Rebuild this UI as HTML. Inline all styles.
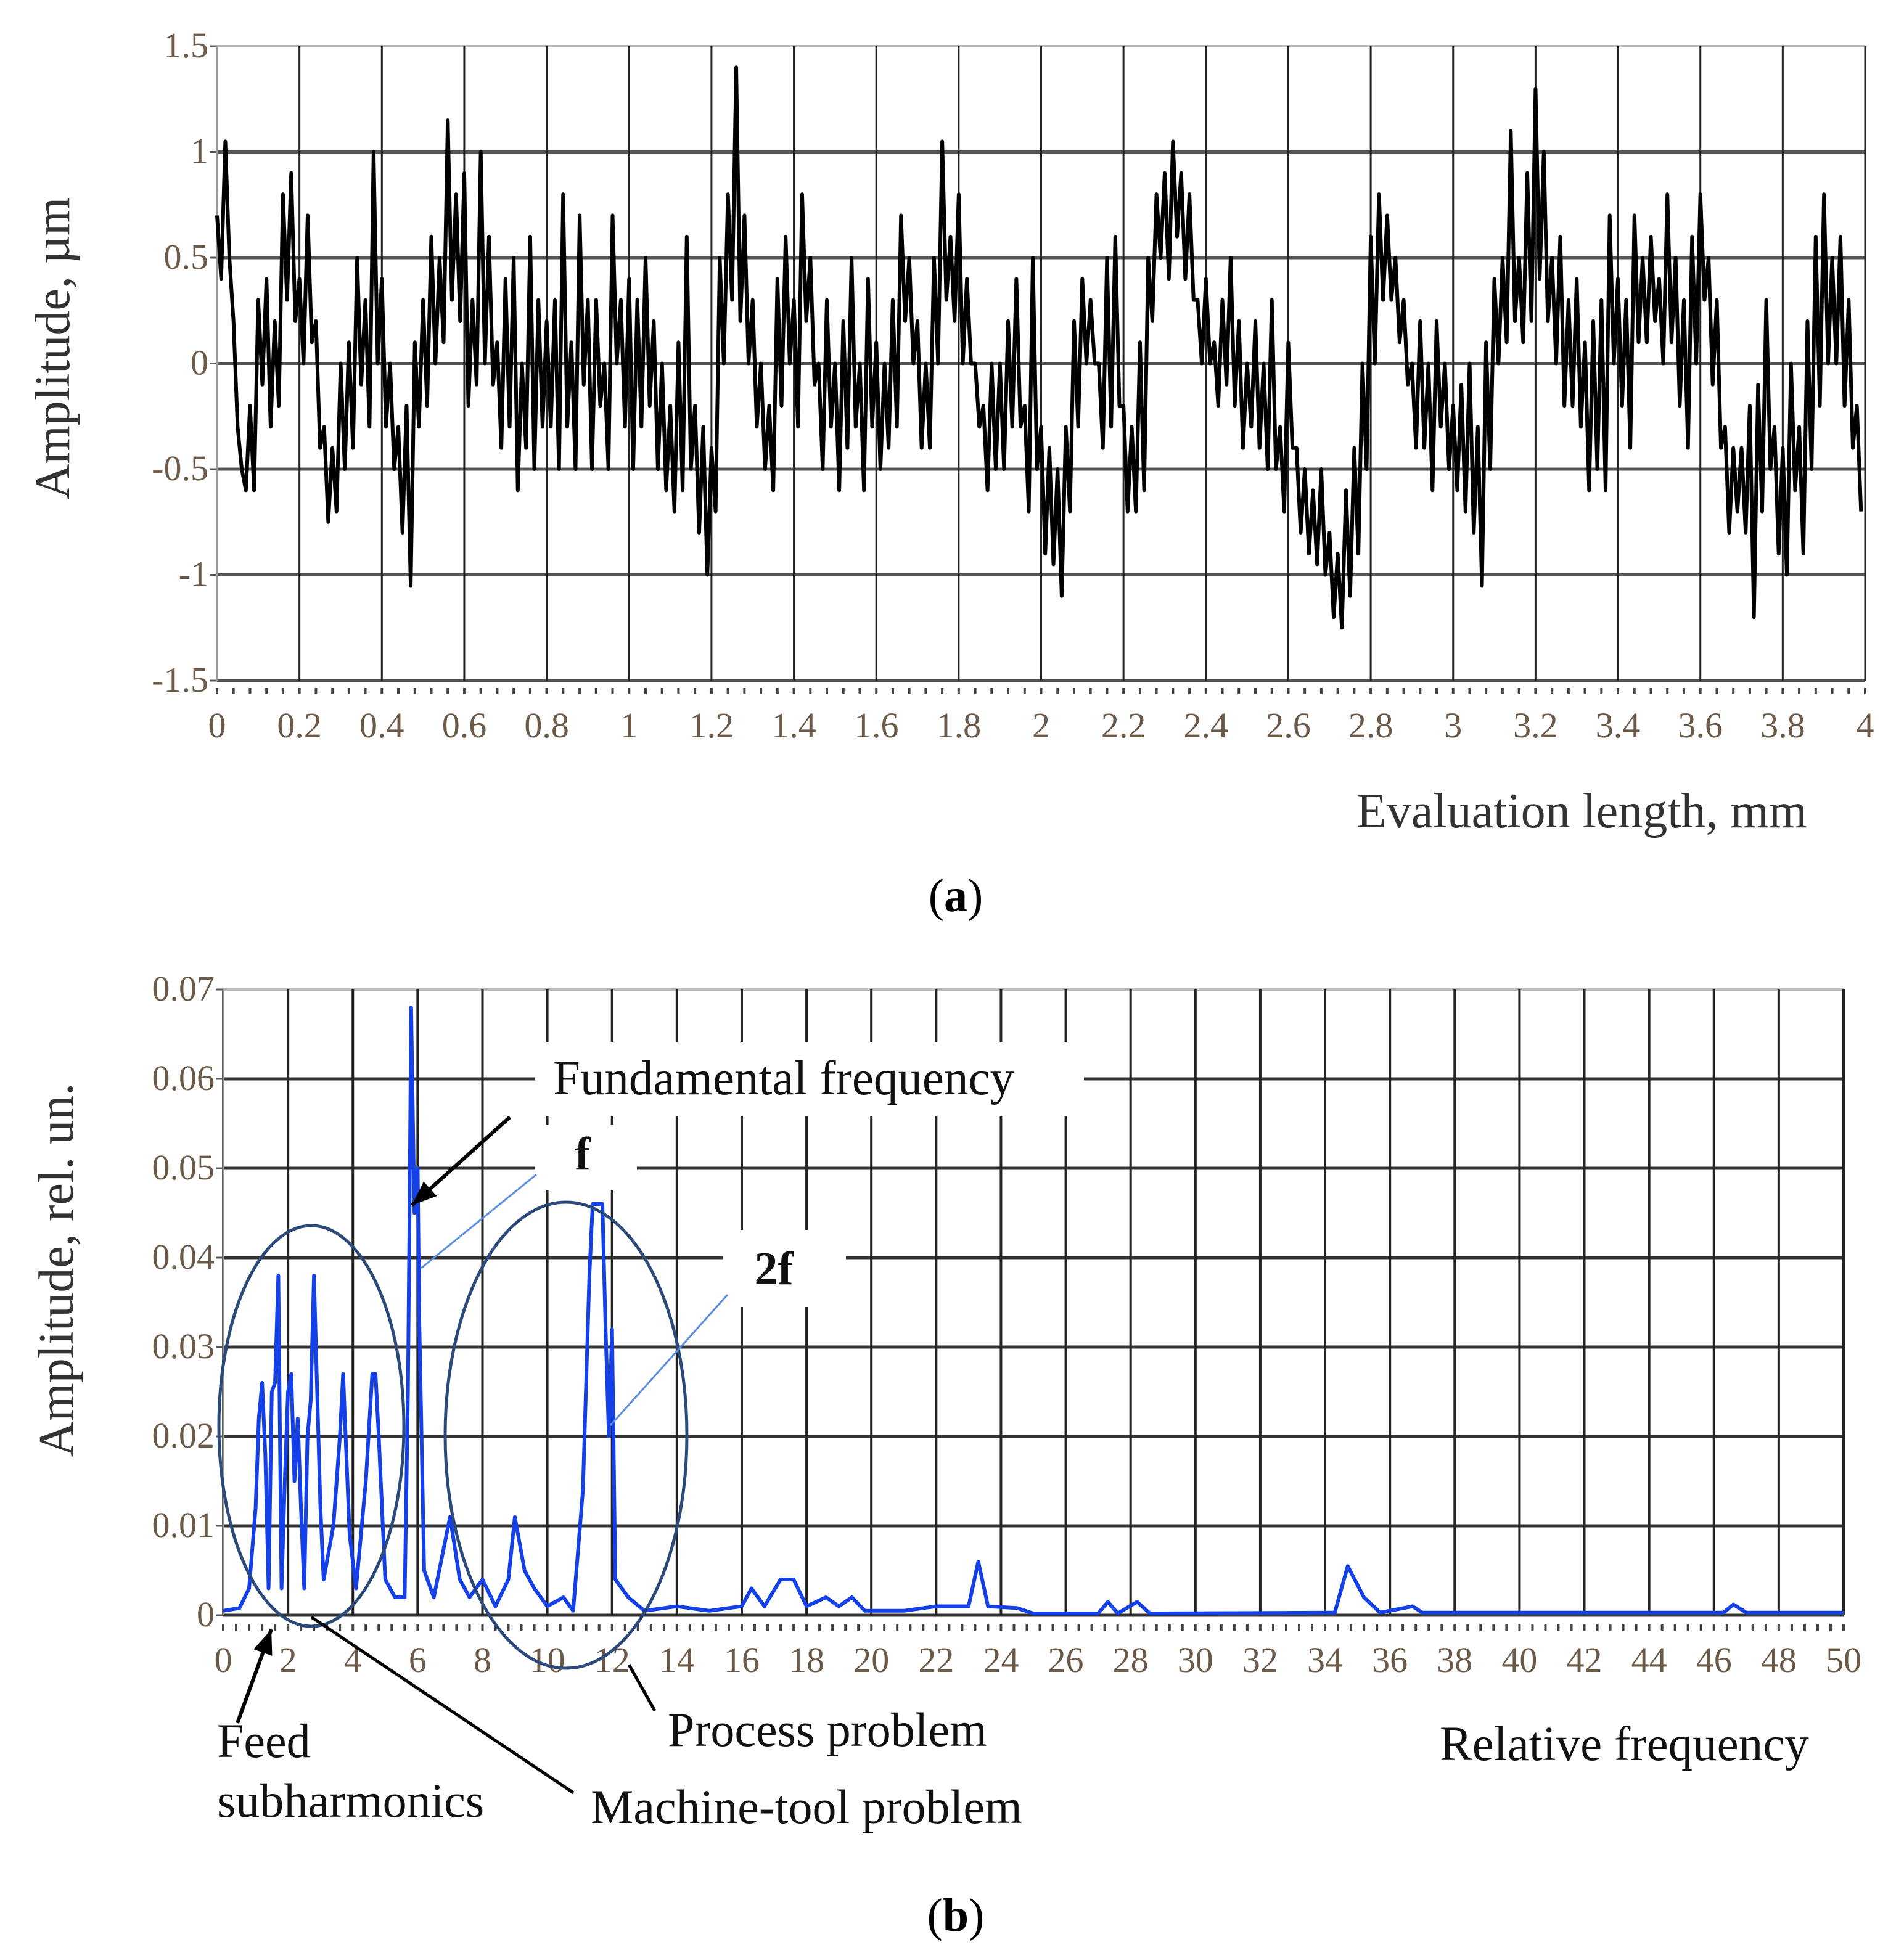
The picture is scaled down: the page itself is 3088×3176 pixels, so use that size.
<!DOCTYPE html>
<html><head><meta charset="utf-8">
<style>
html,body{margin:0;padding:0;background:#fff;}
svg{display:block;font-family:"Liberation Serif",serif;}
</style></head>
<body>
<svg id="fig" width="3088" height="3176" viewBox="0 0 3088 3176" xmlns="http://www.w3.org/2000/svg">
<rect width="3088" height="3176" fill="#fff"/>
<g id="chartA"></g>
<g id="chartB"></g>
</svg>
<script>
// ---------- Chart (a) data ----------
const profHi = [0.7,1.05,0.2,-0.5,-0.2,0.3,0.4,0.2,0.8,0.9,0.4,0.7,0.2,-0.3,-0.4,0.0,0.1,0.5,0.3,1.0,0.4,0.0,-0.3,-0.2,0.1,0.3,0.6,0.5,1.15,0.8,0.9,0.3,1.0,0.6,0.1,0.4,0.5,0.0,0.6,0.3,0.2,0.3,0.8,0.1,0.7,0.3,0.3,0.0,0.7,0.3,0.4,
0.3,0.5,0.2,
0.0,-0.2,0.1,0.6,-0.2,-0.3,-0.4,0.5,0.8,1.4,0.7,0.3,0.0,-0.2,0.4,0.6,0.3,0.8,0.5,0.0,0.3,0.0,0.2,0.5,0.0,0.4,0.1,0.0,0.3,0.7,0.5,0.2,0.0,0.5,1.05,0.6,0.8,0.4,0.0,-0.2,0.0,0.0,0.2,0.4,-0.2,0.5,-0.3,-0.4,-0.5,-0.3,0.2,0.4,0.3,0.0,0.5,0.6,-0.2,-0.3,0.1,0.5,0.8,0.9,1.05,0.9,0.8,
0.3,
0.4,0.1,0.3,0.5,0.2,0.0,0.2,0.0,0.3,-0.3,
0.1,
-0.4,-0.5,-0.6,-0.5,-0.8,-0.9,-0.6,-0.4,0.0,0.6,0.8,0.7,0.5,0.3,0.0,
0.2,0.0,
0.2,0.0,-0.2,-0.1,0.0,-0.3,0.1,0.4,0.5,1.1,0.5,0.9,1.3,
1.0,0.5,0.6,0.3,0.4,0.1,0.2,0.3,0.7,0.4,0.3,0.7,0.5,0.6,0.4,0.8,0.5,0.3,0.6,0.8,0.5,0.3,
-0.3,-0.4,-0.4,-0.2,-0.1,0.3,-0.3,-0.4,0.0,-0.3,
0.2,0.6,0.8,0.5,0.6,0.3,-0.2];
const profLo = [0.4,0.5,-0.3,-0.6,-0.6,-0.1,-0.3,-0.2,0.3,0.2,0.0,0.1,-0.4,-0.75,-0.7,-0.5,-0.4,-0.1,-0.3,0.0,-0.3,-0.5,-0.8,-1.05,-0.3,-0.2,0.0,0.1,0.3,0.2,-0.2,-0.1,0.0,-0.1,-0.4,-0.3,-0.6,-0.4,-0.5,-0.3,-0.3,-0.5,-0.3,-0.5,-0.1,-0.5,-0.2,-0.5,0.0,-0.3,-0.5,
-0.3,-0.2,-0.5,
-0.6,-0.7,-0.6,-0.5,-0.8,-1.0,-0.7,0.0,0.3,0.2,0.0,-0.3,-0.5,-0.6,-0.2,0.0,-0.3,0.2,-0.1,-0.5,-0.3,-0.6,-0.4,-0.3,-0.6,-0.3,-0.5,-0.4,-0.3,0.2,0.0,-0.4,-0.4,0.0,0.3,0.2,0.0,0.0,-0.3,-0.6,-0.5,-0.5,-0.3,-0.3,-0.7,-0.5,-0.9,-0.95,-1.1,-0.7,-0.3,0.0,0.0,-0.4,-0.3,-0.2,-0.7,-0.7,-0.6,0.2,0.5,0.4,0.6,0.4,0.3,
0.0,
0.0,-0.2,-0.1,-0.2,-0.4,-0.3,-0.4,-0.5,-0.5,-0.7,
-0.4,
-0.8,-0.9,-0.95,-1.0,-1.2,-1.25,-1.1,-0.9,-0.5,0.0,0.3,0.3,0.1,-0.1,-0.4,
-0.4,-0.6,
-0.3,-0.5,-0.6,-0.7,-0.8,-1.05,-0.5,0.0,0.1,0.2,0.1,0.2,0.4,
0.2,0.0,-0.2,-0.2,-0.3,-0.6,-0.5,-0.6,0.0,-0.2,-0.4,0.1,0.1,0.2,0.0,0.1,-0.2,-0.4,0.0,0.3,-0.1,-0.4,
-0.8,-0.7,-0.8,-1.2,-0.7,-0.5,-0.9,-1.0,-0.6,-0.9,
-0.5,-0.2,0.0,0.0,-0.2,-0.4,-0.7];
const profXTicks = ["0","0.2","0.4","0.6","0.8","1","1.2","1.4","1.6","1.8","2","2.2","2.4","2.6","2.8","3","3.2","3.4","3.6","3.8","4"];
const profYTicks = ["1.5","1","0.5","0","-0.5","-1","-1.5"];

// ---------- Chart (b) data ----------
const specFreq = [0,0.5,0.8,1.0,1.1,1.2,1.3,1.4,1.5,1.6,1.7,1.8,1.9,2.0,2.1,2.2,2.3,2.4,2.5,2.6,2.7,2.8,2.9,3.0,3.1,3.4,3.6,3.7,3.8,3.9,4.1,4.4,4.6,4.7,4.8,5.0,5.3,5.6,5.7,5.75,5.8,5.9,6.0,6.05,6.2,6.5,7.0,7.3,7.6,8.0,8.4,8.8,9.0,9.3,9.6,10.0,10.5,10.8,11.1,11.3,11.4,11.7,11.8,11.9,12.0,12.1,12.5,13.0,14.0,15.0,16.0,16.3,16.7,17.2,17.6,18.0,18.6,19.0,19.4,19.8,21.0,22.0,23.0,23.3,23.6,24.5,25.0,27.0,27.3,27.6,28.2,28.6,34.3,34.7,35.2,35.7,36.7,37.0,46.3,46.6,47.0,50.0];
const specAmp  = [0.0005,0.0008,0.003,0.012,0.022,0.026,0.018,0.003,0.025,0.026,0.038,0.003,0.015,0.025,0.027,0.015,0.022,0.012,0.003,0.02,0.024,0.038,0.025,0.012,0.004,0.01,0.02,0.027,0.018,0.009,0.003,0.015,0.027,0.027,0.02,0.004,0.002,0.002,0.025,0.045,0.068,0.045,0.05,0.033,0.005,0.002,0.011,0.004,0.002,0.004,0.001,0.004,0.011,0.005,0.003,0.001,0.002,0.0005,0.014,0.038,0.046,0.046,0.032,0.02,0.032,0.004,0.002,0.0005,0.001,0.0005,0.001,0.003,0.001,0.004,0.004,0.001,0.002,0.001,0.002,0.0005,0.0005,0.001,0.001,0.006,0.001,0.0008,0.0002,0.0002,0.0015,0.0002,0.0015,0.0002,0.0003,0.0055,0.002,0.0003,0.001,0.0003,0.0003,0.0012,0.0003,0.0003];
const specXTicks = ["0","2","4","6","8","10","12","14","16","18","20","22","24","26","28","30","32","34","36","38","40","42","44","46","48","50"];
const specYTicks = ["0.07","0.06","0.05","0.04","0.03","0.02","0.01","0"];

const NS = "http://www.w3.org/2000/svg";
function mk(tag, attrs, parent){
  const e = document.createElementNS(NS, tag);
  for (const k in attrs) e.setAttribute(k, attrs[k]);
  parent.appendChild(e);
  return e;
}

// ===== Chart A =====
const A = document.getElementById('chartA');
const ax0 = 352, ax1 = 3025, ayTop = 75, ayBot = 1104;
const axX = v => ax0 + (v/4)*(ax1-ax0);
const axY = v => ayBot - ((v+1.5)/3)*(ayBot-ayTop);

for (let i=0;i<profYTicks.length;i++){
  const v = parseFloat(profYTicks[i]);
  const y = axY(v);
  const gl = mk('line',{x1:ax0,x2:ax1,y1:y,y2:y,stroke:(v===1.5?'#bbb':'#555'),'stroke-width':(v===1.5?4:5)},A);
  
  
  mk('line',{x1:ax0-12,x2:ax0,y1:y,y2:y,stroke:'#555','stroke-width':3},A);
  const t = mk('text',{x:ax0-14,y:y+18,'text-anchor':'end','font-size':58,fill:'#6b5a48'},A);
  t.textContent = profYTicks[i];
  
  
}
for (let i=0;i<profXTicks.length;i++){
  const x = axX(parseFloat(profXTicks[i]));
  const gl = mk('line',{x1:x,x2:x,y1:ayTop,y2:ayBot,stroke:'#222','stroke-width':3},A);
  
  
  const t = mk('text',{x:x,y:ayBot+92,'text-anchor':'middle','font-size':58,fill:'#6b5a48'},A);
  t.textContent = profXTicks[i];
  
  
}
for (let k=0;k<=100;k++){
  const x = axX(k*0.04);
  mk('line',{x1:x,x2:x,y1:ayBot+12,y2:ayBot+22,stroke:'#444','stroke-width':4},A);
}
mk('line',{x1:ax0,x2:ax0,y1:ayTop,y2:ayBot,stroke:'#999','stroke-width':3},A);
{
  const n = profHi.length, step = 4/n;
  let d = '';
  for (let i=0;i<n;i++){
    d += (i?'L':'M') + axX(i*step).toFixed(1) + ' ' + axY(profHi[i]).toFixed(1);
    d += 'L' + axX(i*step+step/2).toFixed(1) + ' ' + axY(profLo[i]).toFixed(1);
  }
  const p = mk('path',{d:d,fill:'none',stroke:'#000','stroke-width':6,'stroke-linejoin':'round'},A);
  
  
}
{
  const t = mk('text',{x:0,y:0,transform:'translate(112,565) rotate(-90)','text-anchor':'middle','font-size':80,fill:'#333'},A);
  t.textContent = 'Amplitude, µm';
  
  
  const t2 = mk('text',{x:2200,y:1342,'font-size':80,fill:'#333'},A);
  t2.textContent = 'Evaluation length, mm';
  
  
  const t3 = mk('text',{x:1550,y:1478,'text-anchor':'middle','font-size':76,fill:'#000'},A);
  t3.innerHTML = '(<tspan font-weight="bold">a</tspan>)';
  
  
}

// ===== Chart B =====
const B = document.getElementById('chartB');
const bx0 = 362, bx1 = 2990, byTop = 1605, byBot = 2620;
const bX = v => bx0 + (v/50)*(bx1-bx0);
const bY = v => byBot - (v/0.07)*(byBot-byTop);

for (let i=0;i<specYTicks.length;i++){
  const v = parseFloat(specYTicks[i]);
  const y = bY(v);
  const gl = mk('line',{x1:bx0,x2:bx1,y1:y,y2:y,stroke:(v===0.07?'#bbb':'#333'),'stroke-width':(v===0.07?4:5)},B);
  
  
  mk('line',{x1:bx0-12,x2:bx0,y1:y,y2:y,stroke:'#555','stroke-width':3},B);
  const t = mk('text',{x:bx0-14,y:y+18,'text-anchor':'end','font-size':58,fill:'#6b5a48'},B);
  t.textContent = specYTicks[i];
  
  
}
for (let i=0;i<specXTicks.length;i++){
  const x = bX(parseFloat(specXTicks[i]));
  const gl = mk('line',{x1:x,x2:x,y1:byTop,y2:byBot,stroke:'#222','stroke-width':4},B);
  
  
  const t = mk('text',{x:x,y:byBot+92,'text-anchor':'middle','font-size':58,fill:'#6b5a48'},B);
  t.textContent = specXTicks[i];
  
  
}
for (let k=0;k<=125;k++){
  const x = bX(k*0.4);
  mk('line',{x1:x,x2:x,y1:byBot+14,y2:byBot+26,stroke:'#444','stroke-width':4},B);
}
mk('line',{x1:bx0,x2:bx0,y1:byTop,y2:byBot,stroke:'#999','stroke-width':3},B);
// white label boxes
mk('rect',{x:868,y:1690,width:890,height:120,fill:'#fff'},B);
mk('rect',{x:868,y:1825,width:165,height:105,fill:'#fff'},B);
mk('rect',{x:1172,y:1995,width:200,height:125,fill:'#fff'},B);
{
  let pts = '';
  for (let i=0;i<specFreq.length;i++) pts += bX(specFreq[i]).toFixed(1)+','+bY(specAmp[i]).toFixed(1)+' ';
  const p = mk('polyline',{points:pts,fill:'none',stroke:'#1440e8','stroke-width':6,'stroke-linejoin':'round'},B);
  
  
}
// annotations
const e1 = mk('ellipse',{cx:505,cy:2313,rx:150,ry:325,fill:'none',stroke:'#2b4a7a','stroke-width':5},B);


const e2 = mk('ellipse',{cx:918,cy:2328,rx:196,ry:378,fill:'none',stroke:'#2b4a7a','stroke-width':5},B);


mk('line',{x1:870,y1:1905,x2:683,y2:2057,stroke:'#5b8ee0','stroke-width':3},B);
mk('line',{x1:1180,y1:2100,x2:990,y2:2312,stroke:'#5b8ee0','stroke-width':3},B);
function arrow(x1,y1,x2,y2,name){
  const g = mk('g',{},B);
  
  
  mk('line',{x1:x1,y1:y1,x2:x2,y2:y2,stroke:'#000','stroke-width':6},g);
  const a = Math.atan2(y2-y1,x2-x1), L=40, W=16;
  const bx = x2 - L*Math.cos(a), by = y2 - L*Math.sin(a);
  mk('polygon',{points:`${x2},${y2} ${bx+W*Math.sin(a)},${by-W*Math.cos(a)} ${bx-W*Math.sin(a)},${by+W*Math.cos(a)}`,fill:'#000'},g);
}
arrow(827,1812,668,1955,'fundamental-arrow');
arrow(385,2795,440,2643,'feed-arrow');
mk('line',{x1:505,y1:2623,x2:930,y2:2908,stroke:'#000','stroke-width':5},B);
mk('line',{x1:1020,y1:2700,x2:1062,y2:2775,stroke:'#000','stroke-width':5},B);
function label(txt,x,y,size,name,bold,anchor){
  const t = mk('text',{x:x,y:y,'font-size':size,fill:'#111','font-weight':bold?'bold':'normal','text-anchor':anchor||'start'},B);
  t.textContent = txt;
  
  
}
label('Fundamental frequency',897,1775,79,'fundamental-label');
label('f',945,1897,76,'f-label',true,'middle');
label('2f',1255,2083,76,'2f-label',true,'middle');
label('Feed',352,2850,78,'feed-label');
label('subharmonics',352,2947,78,'subharmonics-label');
label('Process problem',1083,2832,78,'process-problem-label');
label('Machine-tool problem',958,2957,78,'machine-tool-label');
label('Relative frequency',2335,2855,79,'x-axis-title');
{
  const t = mk('text',{x:0,y:0,transform:'translate(118,2060) rotate(-90)','text-anchor':'middle','font-size':80,fill:'#333'},B);
  t.textContent = 'Amplitude, rel. un.';
  
  
  const t3 = mk('text',{x:1550,y:3132,'text-anchor':'middle','font-size':76,fill:'#000'},B);
  t3.innerHTML = '(<tspan font-weight="bold">b</tspan>)';
  
  
}
</script>
</body></html>
